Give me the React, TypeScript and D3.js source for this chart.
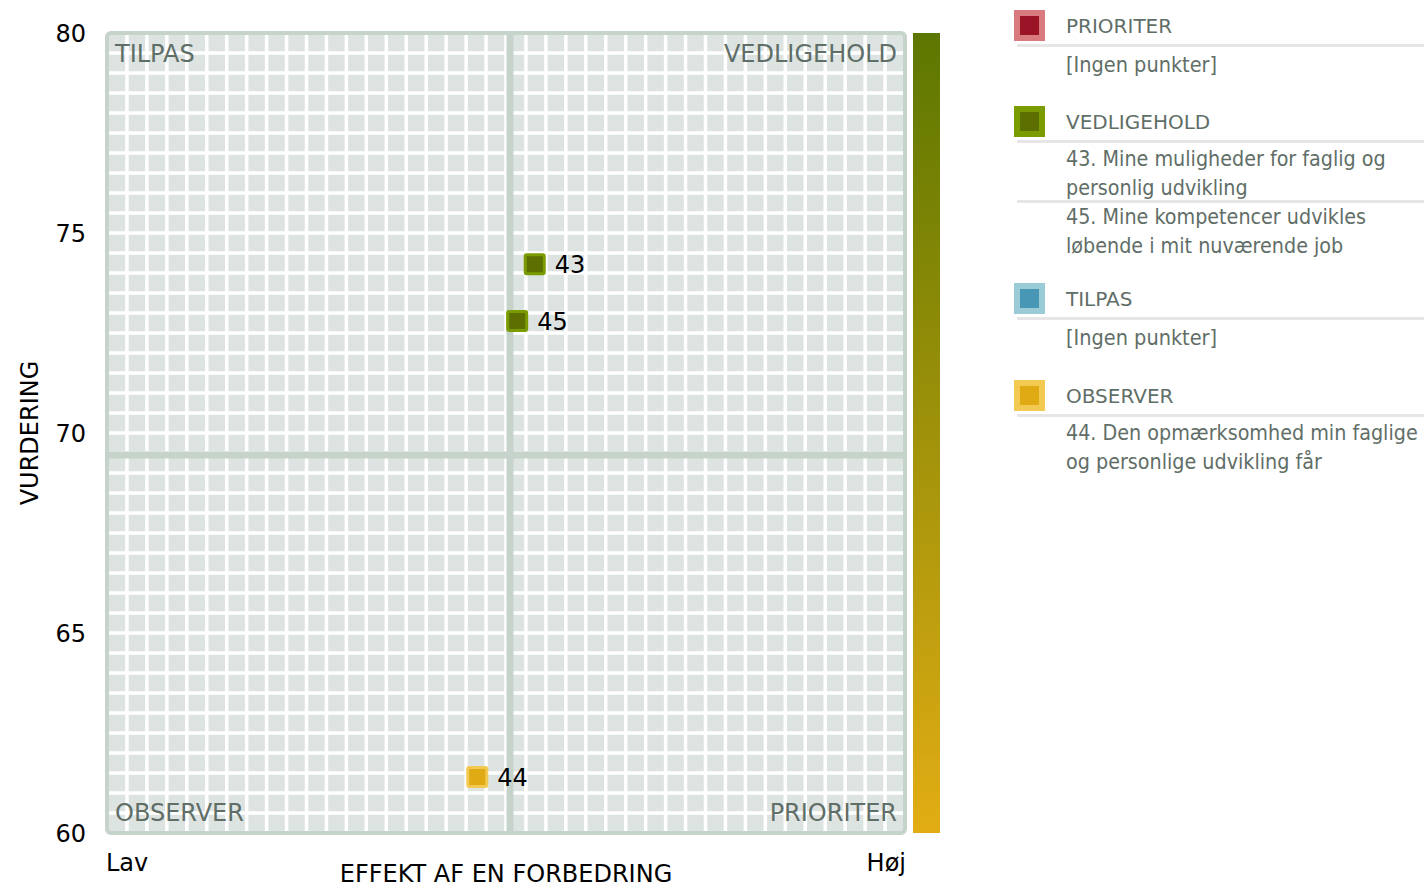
import React from "react";
import * as d3 from "d3";

const yTicks = [60, 65, 70, 75, 80];
const xThreshold = 50.5;
const yThreshold = 69.45;

const pointIds = ["43", "45", "44"];
const pointX = [53.6, 51.4, 46.4];
const pointY = [74.22, 72.8, 61.4];
const pointGroup = ["VEDLIGEHOLD", "VEDLIGEHOLD", "OBSERVER"];

const groupNames = ["PRIORITER", "VEDLIGEHOLD", "TILPAS", "OBSERVER"];
const groupOuter = ["#d97b7e", "#7a9c00", "#9ccbd8", "#f2ca52"];
const groupInner = ["#9b1327", "#5c6f00", "#4797b5", "#e0aa14"];
const groupItems: string[][][] = [
  [],
  [
    ["43. Mine muligheder for faglig og", "personlig udvikling"],
    ["45. Mine kompetencer udvikles", "løbende i mit nuværende job"],
  ],
  [],
  [["44. Den opmærksomhed min faglige", "og personlige udvikling får"]],
];
const emptyText = "[Ingen punkter]";

const W = 1424;
const H = 887;
const FONT = "'DejaVu Sans', Verdana, sans-serif";
const FONT_C = "'DejaVu Sans Condensed', 'DejaVu Sans', sans-serif";
const headerY = [26, 122, 299, 396];

export default function App() {
  const x = d3.scaleLinear().domain([0, 100]).range([107, 905]);
  const y = d3.scaleLinear().domain([60, 80]).range([833, 33]);
  const gx = d3.range(2.5, 100, 2.5);
  const gy = d3.range(60.5, 80, 0.5);

  const legendRows: React.ReactNode[] = [];
  groupNames.forEach((g, gi) => {
    const cy = headerY[gi];
    legendRows.push(
      <g key={"g" + gi}>
        <rect x={1014} y={cy - 16} width={31} height={31} fill={groupOuter[gi]} />
        <rect x={1020} y={cy - 10} width={19} height={19} fill={groupInner[gi]} />
        <text x={1066} y={cy} dy="0.36em" fontSize={20} fill="#5f6e67" fontFamily={FONT}>{g}</text>
        <rect x={1017} y={cy + 18} width={W - 1017} height={3} fill="#e6e6e6" />
      </g>
    );
    const items = groupItems[gi];
    if (items.length === 0) {
      legendRows.push(
        <text key={"e" + gi} x={1066} y={cy + 38} dy="0.36em" fontSize={21.5} fill="#5f6e67" fontFamily={FONT_C}>
          {emptyText}
        </text>
      );
      return;
    }
    let ly = cy + 36;
    items.forEach((item, ii) => {
      if (ii > 0) {
        legendRows.push(
          <rect key={`s${gi}-${ii}`} x={1017} y={ly - 16} width={W - 1017} height={3} fill="#e6e6e6" />
        );
      }
      item.forEach((line, li) => {
        legendRows.push(
          <text key={`t${gi}-${ii}-${li}`} x={1066} y={ly + li * 29} dy="0.36em" fontSize={21.3} fill="#5f6e67" fontFamily={FONT_C}>
            {line}
          </text>
        );
      });
      ly += item.length * 29;
    });
  });

  const gradId = "vgrad";

  return (
    <svg width={W} height={H} style={{ position: "absolute", left: 0, top: 0 }} fontFamily={FONT}>
      <defs>
        <linearGradient id={gradId} x1="0" y1="0" x2="0" y2="1">
          <stop offset="0%" stopColor="#5c7700" />
          <stop offset="100%" stopColor="#e2ad14" />
        </linearGradient>
        <clipPath id="plotclip">
          <rect x={x(0)} y={y(80)} width={x(100) - x(0)} height={y(60) - y(80)} rx={4} />
        </clipPath>
      </defs>

      <rect x={x(0)} y={y(80)} width={x(100) - x(0)} height={y(60) - y(80)} fill="#dde3e1" rx={4} />
      <g clipPath="url(#plotclip)">
        {gx.map((v) => (
          <line key={"gx" + v} x1={x(v)} x2={x(v)} y1={y(80)} y2={y(60)} stroke="#ffffff" strokeWidth={3.5} />
        ))}
        {gy.map((v) => (
          <line key={"gy" + v} x1={x(0)} x2={x(100)} y1={y(v)} y2={y(v)} stroke="#ffffff" strokeWidth={3.5} />
        ))}
        <line x1={x(xThreshold)} x2={x(xThreshold)} y1={y(80)} y2={y(60)} stroke="#c6d3cb" strokeWidth={7} />
        <line x1={x(0)} x2={x(100)} y1={y(yThreshold)} y2={y(yThreshold)} stroke="#c6d3cb" strokeWidth={7} />
      </g>
      <rect x={x(0)} y={y(80)} width={x(100) - x(0)} height={y(60) - y(80)} fill="none" stroke="#c6d3cb" strokeWidth={4} rx={4} />

      <g fontSize={24} fill="#5f6e67">
        <text x={x(0) + 8} y={y(80) + 20} dy="0.36em">TILPAS</text>
        <text x={x(100) - 8} y={y(80) + 20} dy="0.36em" textAnchor="end">VEDLIGEHOLD</text>
        <text x={x(0) + 8} y={y(60) - 21} dy="0.36em">OBSERVER</text>
        <text x={x(100) - 8} y={y(60) - 21} dy="0.36em" textAnchor="end">PRIORITER</text>
      </g>

      <rect x={913} y={y(80)} width={27} height={y(60) - y(80)} fill={`url(#${gradId})`} />

      <g fontSize={24} fill="#000">
        {yTicks.map((t) => (
          <text key={t} x={86} y={y(t)} dy="0.36em" textAnchor="end">{t}</text>
        ))}
      </g>
      <text transform={`translate(38, ${y(70)}) rotate(-90)`} textAnchor="middle" fontSize={24} fill="#000">
        VURDERING
      </text>

      <text x={x(0) - 1} y={862} dy="0.36em" fontSize={24} fill="#000">Lav</text>
      <text x={x(100) + 1} y={862} dy="0.36em" fontSize={24} fill="#000" textAnchor="end">Høj</text>
      <text x={506} y={873} dy="0.36em" fontSize={24} fill="#000" textAnchor="middle">EFFEKT AF EN FORBEDRING</text>

      {pointIds.map((id, i) => {
        const gi = groupNames.indexOf(pointGroup[i]);
        const px = x(pointX[i]);
        const py = y(pointY[i]);
        return (
          <g key={id}>
            <rect x={px - 9.5} y={py - 9.5} width={19} height={19} fill={groupInner[gi]} stroke={groupOuter[gi]} strokeWidth={3} rx={1.5} />
            <text x={px + 20} y={py} dy="0.36em" fontSize={24} fill="#000">{id}</text>
          </g>
        );
      })}

      {legendRows}
    </svg>
  );
}
